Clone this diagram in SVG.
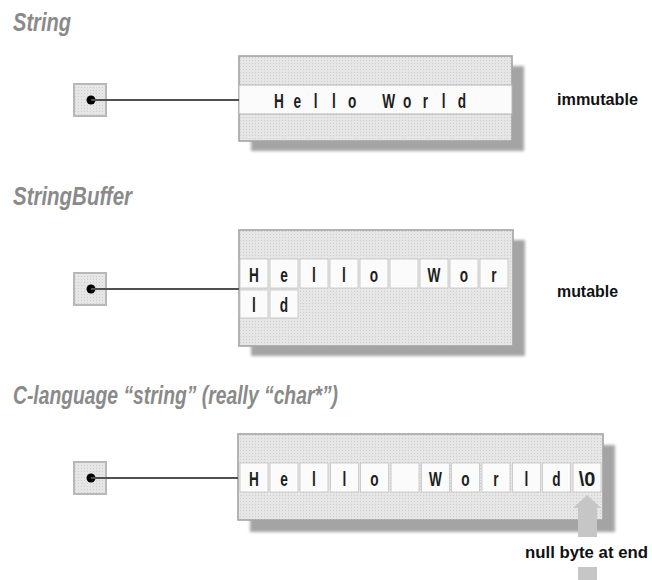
<svg xmlns="http://www.w3.org/2000/svg" width="652" height="580" viewBox="0 0 652 580">
<style>
.title{font-family:"Liberation Sans",Arial,sans-serif;font-weight:bold;font-style:italic;font-size:25px;fill:#8a8a8a}
.lbl{font-family:"Liberation Sans",Arial,sans-serif;font-weight:bold;font-size:17px;fill:#111}
.ch{font-family:"Liberation Sans",Arial,sans-serif;font-weight:bold;font-size:21px;fill:#1e1e1e;text-anchor:middle}
.box{fill:url(#stip);stroke:#a4a4a4;stroke-width:1.6}
.shadow{fill:#a4a4a4;filter:url(#blur)}
.cell{fill:#fbfbfb;stroke:#c4c4c4;stroke-width:0.8}
.ptr{fill:url(#stip);stroke:#b8b8b8;stroke-width:2}
.dot{fill:#000}
.conn{stroke:#505050;stroke-width:2;fill:none}
.gray{fill:#c6c6c6}
</style>
<defs>
<pattern id="stip" width="3" height="3" patternUnits="userSpaceOnUse">
<rect width="3" height="3" fill="#e6e6e6"/>
<rect width="1" height="1" fill="#cdcdcd"/>
</pattern>
<filter id="blur" x="-10%" y="-10%" width="120%" height="130%"><feGaussianBlur stdDeviation="1.6"/></filter>
</defs>

<!-- String section -->
<g id="title-string"><text class="title" x="13" y="31" textLength="58" lengthAdjust="spacingAndGlyphs">String</text></g>
<g id="ptr-string"><rect class="ptr" x="74" y="84" width="32" height="32"/><circle class="dot" cx="91" cy="100" r="4.5"/></g>
<g id="box-string">
<rect class="shadow" x="251" y="66" width="273" height="85"/>
<rect class="box" x="239" y="56" width="273" height="85"/>
<rect x="239" y="85" width="273" height="29" fill="#fbfbfb" stroke="#b4b4b4" stroke-width="1"/>
<g class="ch">
<text transform="translate(279,108) scale(0.65 1)">H</text>
<text transform="translate(297.3,108) scale(0.65 1)">e</text>
<text transform="translate(315.6,108) scale(0.65 1)">l</text>
<text transform="translate(333.9,108) scale(0.65 1)">l</text>
<text transform="translate(352.2,108) scale(0.65 1)">o</text>
<text transform="translate(388.8,108) scale(0.65 1)">W</text>
<text transform="translate(407.1,108) scale(0.65 1)">o</text>
<text transform="translate(425.4,108) scale(0.65 1)">r</text>
<text transform="translate(443.7,108) scale(0.65 1)">l</text>
<text transform="translate(462,108) scale(0.65 1)">d</text>
</g>
</g>
<g id="label-immutable"><text class="lbl" x="557" y="105" textLength="81" lengthAdjust="spacingAndGlyphs">immutable</text></g>

<!-- StringBuffer section -->
<g id="title-stringbuffer"><text class="title" x="13" y="205" textLength="119" lengthAdjust="spacingAndGlyphs">StringBuffer</text></g>
<g id="ptr-stringbuffer"><rect class="ptr" x="74" y="273" width="32" height="32"/><circle class="dot" cx="91" cy="289" r="4.5"/></g>
<g id="box-stringbuffer">
<rect class="shadow" x="251" y="240" width="274" height="116"/>
<rect class="box" x="239" y="230" width="274" height="116"/>
<rect class="cell" x="240" y="259" width="28" height="29"/>
<rect class="cell" x="270" y="259" width="28" height="29"/>
<rect class="cell" x="300" y="259" width="28" height="29"/>
<rect class="cell" x="330" y="259" width="28" height="29"/>
<rect class="cell" x="360" y="259" width="28" height="29"/>
<rect class="cell" x="390" y="259" width="28" height="29"/>
<rect class="cell" x="420" y="259" width="28" height="29"/>
<rect class="cell" x="450" y="259" width="28" height="29"/>
<rect class="cell" x="480" y="259" width="28" height="29"/>
<rect class="cell" x="240" y="290" width="28" height="28"/>
<rect class="cell" x="270" y="290" width="28" height="28"/>
<g class="ch">
<text transform="translate(254,282) scale(0.65 1)">H</text>
<text transform="translate(284,282) scale(0.65 1)">e</text>
<text transform="translate(314,282) scale(0.65 1)">l</text>
<text transform="translate(344,282) scale(0.65 1)">l</text>
<text transform="translate(374,282) scale(0.65 1)">o</text>
<text transform="translate(434,282) scale(0.65 1)">W</text>
<text transform="translate(464,282) scale(0.65 1)">o</text>
<text transform="translate(494,282) scale(0.65 1)">r</text>
<text transform="translate(254,312) scale(0.65 1)">l</text>
<text transform="translate(284,312) scale(0.65 1)">d</text>
</g>
</g>
<g id="label-mutable"><text class="lbl" x="557" y="297" textLength="61" lengthAdjust="spacingAndGlyphs">mutable</text></g>

<!-- C-language section -->
<g id="title-c"><text class="title" x="13" y="404" textLength="325" lengthAdjust="spacingAndGlyphs">C-language “string” (really “char*”)</text></g>
<g id="ptr-c"><rect class="ptr" x="74" y="462" width="32" height="32"/><circle class="dot" cx="91" cy="478" r="4.5"/></g>
<g id="box-c">
<rect class="shadow" x="250" y="445" width="365" height="87"/>
<rect class="box" x="238" y="434" width="365" height="86"/>
<rect class="cell" x="240" y="463" width="28" height="29"/>
<rect class="cell" x="270" y="463" width="28" height="29"/>
<rect class="cell" x="300" y="463" width="28" height="29"/>
<rect class="cell" x="330.5" y="463" width="28" height="29"/>
<rect class="cell" x="360.5" y="463" width="28" height="29"/>
<rect class="cell" x="391" y="463" width="28" height="29"/>
<rect class="cell" x="421.5" y="463" width="28" height="29"/>
<rect class="cell" x="451.5" y="463" width="28" height="29"/>
<rect class="cell" x="482" y="463" width="28" height="29"/>
<rect class="cell" x="512.5" y="463" width="28" height="29"/>
<rect class="cell" x="542.5" y="463" width="28" height="29"/>
<rect class="cell" x="573" y="463" width="28" height="29"/>
<g class="ch">
<text transform="translate(254,486) scale(0.65 1)">H</text>
<text transform="translate(284,486) scale(0.65 1)">e</text>
<text transform="translate(314,486) scale(0.65 1)">l</text>
<text transform="translate(344.5,486) scale(0.65 1)">l</text>
<text transform="translate(374.5,486) scale(0.65 1)">o</text>
<text transform="translate(435.5,486) scale(0.65 1)">W</text>
<text transform="translate(465.5,486) scale(0.65 1)">o</text>
<text transform="translate(496,486) scale(0.65 1)">r</text>
<text transform="translate(526.5,486) scale(0.65 1)">l</text>
<text transform="translate(556.5,486) scale(0.65 1)">d</text>
<text transform="translate(587,486) scale(0.95 1)">\0</text>
</g>
</g>
<g id="label-null"><text class="lbl" x="525" y="558" font-size="18" textLength="123" lengthAdjust="spacingAndGlyphs">null byte at end</text></g>

<!-- connectors -->
<g id="connectors">
<line class="conn" x1="91" y1="100" x2="239" y2="100"/>
<line class="conn" x1="91" y1="289" x2="239" y2="289"/>
<line class="conn" x1="91" y1="478" x2="238" y2="478"/>
<polygon class="gray" points="587,495 601,508 597,508 597,537 578,537 578,508 573,508"/>
<rect class="gray" x="578" y="567" width="19" height="13"/>
</g>
</svg>
